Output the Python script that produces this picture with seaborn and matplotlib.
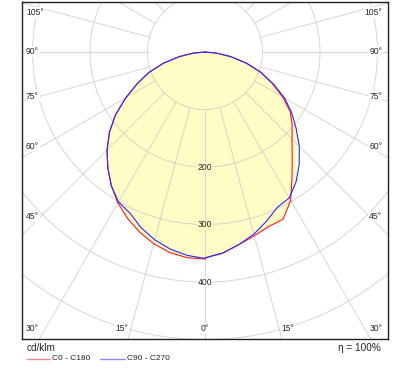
import numpy as np
import pandas as pd
import matplotlib.pyplot as plt
from matplotlib.lines import Line2D
import seaborn as sns

# --- Dados (cd/klm) por ângulo gama, medido a partir do nadir ---
gamma = [0, 5, 10, 15, 20, 25, 30, 35, 40, 45, 50, 55, 60, 65, 70, 75, 80, 85, 90]
c0 = [358, 351, 340, 331, 323, 321, 298, 264, 236, 214, 198, 181, 156, 129, 103, 74, 45, 20, 0]
c180 = [360, 359, 354, 345, 333, 319, 303, 284, 263, 241, 217, 190, 159, 130, 104, 75, 45, 20, 0]
c90 = [358, 351, 340, 328, 313, 298, 293, 276, 255, 232, 207, 184, 160, 131, 104, 75, 45, 20, 0]
c270 = [359, 355, 348, 338, 325, 309, 301, 284, 263, 241, 217, 190, 159, 130, 104, 75, 45, 20, 0]

planos = ['C0 - C180', 'C90 - C270']
cores = {'C0 - C180': '#ff1a1a', 'C90 - C270': '#2a2aff'}
cores_legenda = ['#f08a8a', '#8a8af0']
aneis = [100, 200, 300, 400, 500, 600]
rotulos_aneis = [200, 300, 400]
rotulos_angulos_lado = ['105°', '90°', '75°', '60°', '45°', '30°']
rotulos_angulos_base = ['15°', '0°', '15°']

COR_FUNDO = '#fffcc6'
COR_GRADE = '#c8c8c8'


def meia_curva(valores, lado):
    g = np.radians(gamma)
    v = np.array(valores, dtype=float)
    return lado * v * np.sin(g), -v * np.cos(g)


linhas = []
for nome, dir_, esq in [('C0 - C180', c0, c180), ('C90 - C270', c90, c270)]:
    xe, ye = meia_curva(esq, -1)
    xd, yd = meia_curva(dir_, 1)
    x = np.concatenate([xe[::-1], xd])
    y = np.concatenate([ye[::-1], yd])
    linhas.append(pd.DataFrame({'x': x, 'y': y, 'plano': nome, 'ordem': np.arange(len(x))}))
df = pd.concat(linhas, ignore_index=True)

sns.set_style('white')
plt.rcParams['font.family'] = ['Liberation Sans', 'DejaVu Sans']

fig = plt.figure(figsize=(4.08, 3.69), dpi=100)
ax = fig.add_axes([22 / 408, 30 / 369, 366 / 408, 337 / 369])

# preenchimento (união das duas curvas)
for nome in planos:
    d = df[df['plano'] == nome]
    ax.fill(d['x'], d['y'], color=COR_FUNDO, lw=0, zorder=1)

# grade polar
t = np.linspace(0, 2 * np.pi, 400)
for r in aneis:
    ax.plot(r * np.cos(t), r * np.sin(t), color=COR_GRADE, lw=0.75, alpha=0.7, zorder=2)
for a in np.arange(0, 360, 15):
    ar = np.radians(a)
    ax.plot([100 * np.sin(ar), 800 * np.sin(ar)], [-100 * np.cos(ar), -800 * np.cos(ar)],
            color=COR_GRADE, lw=0.75, alpha=0.7, zorder=2)

sns.lineplot(data=df, x='x', y='y', hue='plano', palette=cores, sort=False,
             estimator=None, units='plano', lw=0.8, legend=False, ax=ax, zorder=3)

ax.set_xlim(-318.3, 318.3)
ax.set_ylim(-499, 87)
ax.set_aspect('equal')
ax.set_xticks([])
ax.set_yticks([])
ax.set_xlabel('')
ax.set_ylabel('')
for s in ax.spines.values():
    s.set_color('#222222')
    s.set_linewidth(1.0)

fs = 6.2
for r in rotulos_aneis:
    fc = COR_FUNDO if r < 360 else 'white'
    ax.text(0, -r, str(r), ha='center', va='center', fontsize=fs, zorder=4,
            bbox=dict(facecolor=fc, edgecolor='none', pad=0.6))

ys_lado = [0.970, 0.852, 0.721, 0.570, 0.362, 0.030]
for txt, yy in zip(rotulos_angulos_lado, ys_lado):
    for xx, ha in [(0.011, 'left'), (0.984, 'right')]:
        ax.text(xx, yy, txt, transform=ax.transAxes, ha=ha, va='center', fontsize=fs, zorder=4,
                bbox=dict(facecolor='white', edgecolor='none', pad=0.6))
for txt, xx in zip(rotulos_angulos_base, [0.273, 0.5, 0.727]):
    ax.text(xx, 0.030, txt, transform=ax.transAxes, ha='center', va='center', fontsize=fs, zorder=4,
            bbox=dict(facecolor='white', edgecolor='none', pad=0.6))

# textos abaixo do gráfico
fig.text(27 / 408, 1 - 348 / 369, 'cd/klm', ha='left', va='center', fontsize=7.2, color='#222222')
fig.text(381 / 408, 1 - 348 / 369, 'η = 100%', ha='right', va='center', fontsize=7.2, color='#222222')
yl = 1 - 359 / 369
for (x0, x1, xt), nome, c in zip([(27, 50, 52), (100, 125, 127)], planos, cores_legenda):
    fig.add_artist(Line2D([x0 / 408, x1 / 408], [yl, yl], color=c, lw=1.0))
    fig.text(xt / 408, yl, nome, ha='left', va='center', fontsize=6.0, color='#222222')

plt.savefig('out.png', dpi=100)
